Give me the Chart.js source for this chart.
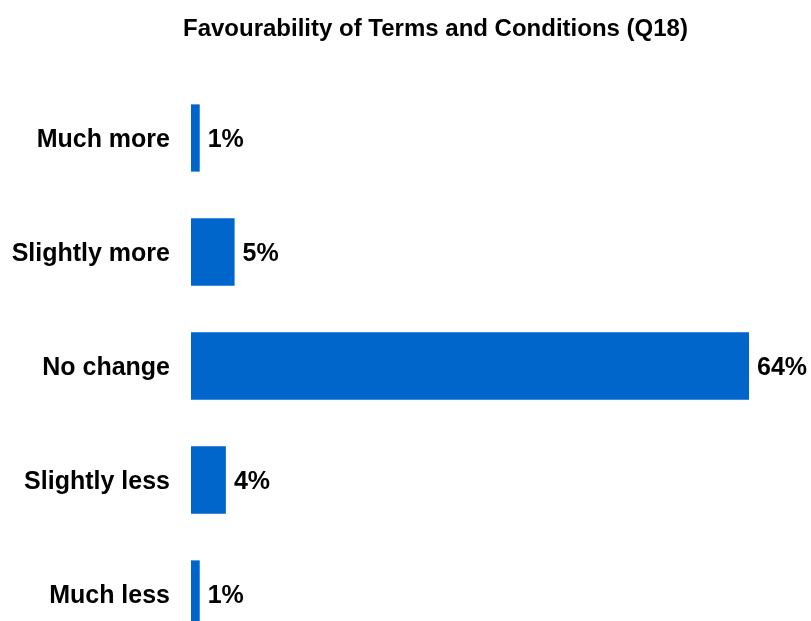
<!DOCTYPE html>
<html>
<head>
<meta charset="utf-8">
<script src="https://cdn.jsdelivr.net/npm/chart.js@4"></script>
<style>
  html, body { margin:0; padding:0; background:#fff; overflow:hidden; }
  #fav-chart { display:block; }
</style>
</head>
<body>
<canvas id="fav-chart" width="811" height="651"></canvas>
<script>
const categories = ['Much more', 'Slightly more', 'No change', 'Slightly less', 'Much less'];
const shares = [1, 5, 64, 4, 1];
const titleText = 'Favourability of Terms and Conditions (Q18)';

const FONT = "'Liberation Sans', Arial, sans-serif";

// percent labels to the right of each bar
const valueLabels = {
  id: 'valueLabels',
  afterDatasetsDraw(chart) {
    const ctx = chart.ctx;
    const meta = chart.getDatasetMeta(0);
    ctx.save();
    ctx.font = 'bold 25px ' + FONT;
    ctx.fillStyle = '#000';
    ctx.textAlign = 'left';
    ctx.textBaseline = 'middle';
    meta.data.forEach((bar, i) => {
      ctx.fillText(shares[i] + '%', bar.x + 8, bar.y + 2);
    });
    ctx.restore();
  }
};

// heading sits a bit right of the canvas centre, so draw it by hand
const heading = {
  id: 'heading',
  afterDraw(chart) {
    const ctx = chart.ctx;
    ctx.save();
    ctx.font = 'bold 24px ' + FONT;
    ctx.fillStyle = '#000';
    ctx.textAlign = 'left';
    ctx.textBaseline = 'middle';
    ctx.fillText(titleText, 183, 29);
    ctx.restore();
  }
};

new Chart(document.getElementById('fav-chart'), {
  type: 'bar',
  data: {
    labels: categories,
    datasets: [{
      data: shares,
      backgroundColor: '#0066cc',
      barPercentage: 0.59,
      categoryPercentage: 1
    }]
  },
  options: {
    responsive: false,
    indexAxis: 'y',
    animation: false,
    layout: { padding: { left: 0, right: 62, top: 81, bottom: 0 } },
    scales: {
      x: { display: false, min: 0, max: 64 },
      y: {
        grid: { display: false, drawTicks: false },
        border: { display: false },
        ticks: {
          color: '#000',
          padding: 21,
          labelOffset: 2,
          font: { family: FONT, size: 25, weight: 'bold' }
        },
        afterFit(scale) {
          scale.width = 191;
          // the last band runs off the bottom edge, no label padding wanted
          scale.paddingTop = 0;
          scale.paddingBottom = 0;
        }
      }
    },
    plugins: {
      legend: { display: false },
      tooltip: { enabled: false },
      title: { display: false }
    }
  },
  plugins: [valueLabels, heading]
});
</script>
</body>
</html>
